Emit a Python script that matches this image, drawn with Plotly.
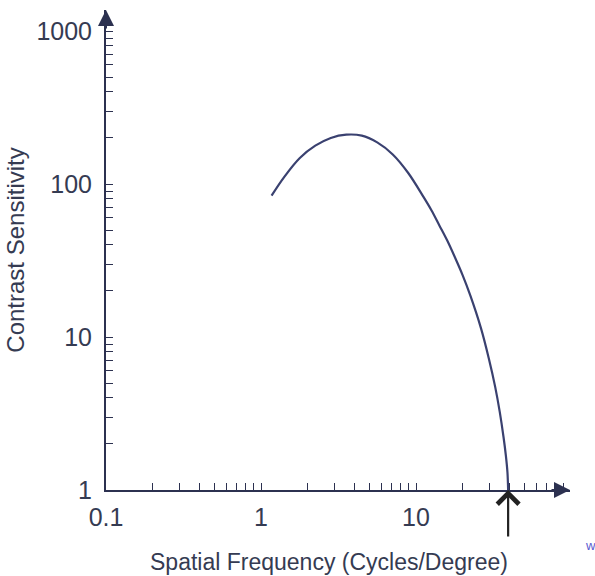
import math
import plotly.graph_objects as go

# Data
freq = [1.17, 1.41, 1.78, 2.24, 2.82, 3.55, 4.47, 5.62, 7.08, 8.91, 11.2,
        12.6, 14.1, 15.85, 17.8, 19.95, 22.4, 26.3, 29.5, 32.4, 34.7, 36.7,
        38.0, 38.9, 39.3]
sens = [83.9, 111, 148, 178, 200, 210, 207, 187, 156, 118, 82,
        67.1, 54, 43.0, 33.3, 25.5, 18.7, 11.35, 7.24, 4.74, 3.24, 2.22,
        1.68, 1.31, 1.0]
cutoff = 39.3

x_major = [0.1, 1, 10]
x_major_labels = ["0.1", "1", "10"]
y_major = [1, 10, 100, 1000]
y_major_labels = ["1", "10", "100", "1000"]
x_title = "Spatial Frequency (Cycles/Degree)"
y_title = "Contrast Sensitivity"

INK = "#2c3150"
TXT = "#353b52"
FONT = "Liberation Sans, Arial, sans-serif"

def log_ticks(lo_dec, hi_dec, upto=None):
    vals = []
    for d in range(lo_dec, hi_dec + 1):
        for m in range(1, 10):
            v = m * 10 ** d
            if upto is not None and v > upto:
                continue
            vals.append(v)
    return vals

xt = [v for v in log_ticks(-1, 1) + [20, 30, 40, 50, 60] if v > 0.1 + 1e-9]
yt = [v for v in log_ticks(0, 3, upto=1000) if v > 1]

def labels(vals, majors, majlab):
    out = []
    for v in vals:
        lab = ""
        for mv, ml in zip(majors, majlab):
            if abs(v - mv) < 1e-9 * max(1, mv):
                lab = ml
        out.append(lab)
    return out

fig = go.Figure()
fig.add_trace(go.Scatter(
    x=freq, y=sens, mode="lines",
    line=dict(color="#3a4170", width=2.2, shape="spline", smoothing=1.0),
    hoverinfo="skip", showlegend=False,
))

L, R, T, B = 106, 25, 10, 86
W, H = 595, 576
PW, PH = W - R - L, H - B - T
xrng = [-1, -1 + PW / 155.0]
yrng = [0, PH / 153.0]

fig.update_layout(
    width=W, height=H,
    margin=dict(l=L, r=R, t=T, b=B),
    paper_bgcolor="white", plot_bgcolor="white",
    font=dict(family=FONT, color=TXT),
    xaxis=dict(
        type="log", range=xrng, showgrid=False, zeroline=False,
        showline=True, linecolor=INK, linewidth=2,
        tickmode="array", tickvals=[0.1] + xt,
        ticktext=labels([0.1] + xt, x_major, x_major_labels),
        ticks="inside", ticklen=7, tickwidth=1.2, tickcolor=INK,
        tickfont=dict(size=25, color=TXT), ticklabelstandoff=4,
    ),
    yaxis=dict(
        type="log", range=yrng, showgrid=False, zeroline=False,
        showline=True, linecolor=INK, linewidth=2,
        tickmode="array", tickvals=[1] + yt,
        ticktext=labels([1] + yt, y_major, y_major_labels),
        ticks="inside", ticklen=7, tickwidth=1.2, tickcolor=INK,
        tickfont=dict(size=25, color=TXT), ticklabelstandoff=7,
        title=dict(text=y_title, font=dict(size=24, color=TXT), standoff=5),
    ),
)

# X-axis title (slightly left of plot centre, as in the reference)
fig.add_annotation(x=(329 - L) / PW, y=-(562 - (T + PH)) / PH,
                   xref="paper", yref="paper", text=x_title, showarrow=False,
                   xanchor="center", yanchor="middle",
                   font=dict(size=23, color=TXT))

# Axis arrowheads
fig.add_annotation(x=1.0, y=0, xref="paper", yref="paper", text="",
                   showarrow=True, ax=-20, ay=0, arrowhead=2, arrowsize=1.6,
                   arrowwidth=2, arrowcolor=INK)
fig.add_annotation(x=0, y=1.0, xref="paper", yref="paper", text="",
                   showarrow=True, ax=0, ay=20, arrowhead=2, arrowsize=1.6,
                   arrowwidth=2, arrowcolor=INK)
# Cut-off arrow
fig.add_annotation(x=math.log10(cutoff), y=0, xref="x", yref="paper", text="",
                   showarrow=True, ax=0, ay=48, arrowhead=4, arrowsize=1.9,
                   arrowwidth=2.2, arrowcolor="#222")
# Fragment at right edge
fig.add_annotation(x=1.0, y=-0.135, xref="paper", yref="paper", text="w",
                   showarrow=False, xanchor="left", xshift=13,
                   font=dict(size=13, color="#5a5ad0"))

fig.write_html("out.html")
